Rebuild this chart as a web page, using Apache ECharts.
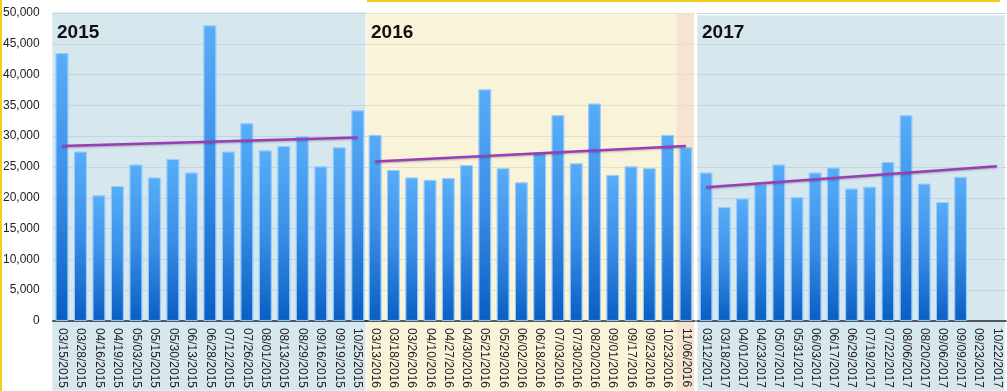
<!DOCTYPE html>
<html><head><meta charset="utf-8">
<script src="https://cdn.jsdelivr.net/npm/echarts@6/dist/echarts.min.js"></script>
<style>html,body{margin:0;padding:0;background:#fff}#c{width:1007px;height:391px}</style>
</head><body><div id="c"></div>
<script>
// ---------- data ----------
const yearLabels = ['2015', '2016', '2017'];
const dates2015 = ['03/15/2015','03/28/2015','04/16/2015','04/19/2015','05/03/2015','05/15/2015','05/30/2015','06/13/2015','06/28/2015','07/12/2015','07/26/2015','08/01/2015','08/13/2015','08/29/2015','09/16/2015','09/19/2015','10/25/2015'];
const values2015 = [43500,27500,20400,21900,25400,23300,26300,24100,48000,27500,32100,27700,28400,30000,25100,28200,34200];
const trend2015 = [28400, 29800];
const dates2016 = ['03/13/2016','03/18/2016','03/26/2016','04/10/2016','04/27/2016','04/30/2016','05/21/2016','05/29/2016','06/02/2016','06/18/2016','07/03/2016','07/30/2016','08/20/2016','09/01/2016','09/17/2016','09/23/2016','10/23/2016','11/06/2016'];
const values2016 = [30200,24500,23300,22900,23200,25300,37600,24800,22500,27400,33400,25600,35300,23700,25100,24800,30200,28200];
const trend2016 = [25900, 28400];
const dates2017 = ['03/12/2017','03/18/2017','04/01/2017','04/23/2017','05/07/2017','05/31/2017','06/03/2017','06/17/2017','06/29/2017','07/19/2017','07/22/2017','08/06/2017','08/20/2017','09/06/2017','09/09/2017','09/23/2017','10/22/2017'];
const values2017 = [24100,18500,19900,22200,25400,20100,24100,24900,21500,21800,25800,33400,22300,19300,23400,null,null];
const trend2017 = [21700, 25100];
const highlightDate = '11/06/2016';
const yTicks = {min: 0, max: 50000, interval: 5000};

// ---------- layout / style ----------
const PLOT_TOP = 13, PLOT_H = 308, IMG_H = 391;
const panels = [
  {left: 52, width: 315, top: 12, bg: '#d6e7ee', line: '#c3d6de'},
  {left: 366, width: 329, top: 14, bg: '#f9f4d9', line: '#e8e0c5'},
  {left: 697, width: 309, top: 15, bg: '#d6e7ee', line: '#c3d6de'}
];
const allDates = [dates2015, dates2016, dates2017];
const allValues = [values2015, values2016, values2017];
const allTrends = [trend2015, trend2016, trend2017];
const FONT = '"Liberation Sans", Arial, Helvetica, sans-serif';

const chart = echarts.init(document.getElementById('c'), null, {renderer: 'canvas'});

const barColor = new echarts.graphic.LinearGradient(0, 0, 0, 1, [
  {offset: 0, color: '#58adf8'},
  {offset: 0.5, color: '#3a8ee6'},
  {offset: 1, color: '#0a5ec2'}
]);

const grids = [], xAxes = [], yAxes = [], series = [];
panels.forEach((p, i) => {
  grids.push({left: p.left, width: p.width, top: PLOT_TOP, height: PLOT_H, containLabel: false});
  xAxes.push({
    type: 'category', gridIndex: i, data: allDates[i], boundaryGap: true,
    axisLine: {show: true, lineStyle: {color: '#2b2b2b', width: 1.5}},
    axisTick: {show: false},
    axisLabel: {rotate: -90, interval: 0, margin: 7, fontSize: 12, color: '#222', fontFamily: FONT},
    splitLine: {show: false}
  });
  yAxes.push({
    type: 'value', gridIndex: i, min: yTicks.min, max: yTicks.max, interval: yTicks.interval,
    axisLine: {show: false}, axisTick: {show: false},
    axisLabel: {show: i === 0, margin: 13, fontSize: 12, color: '#222', fontFamily: FONT,
      formatter: v => v.toLocaleString('en-US')},
    splitLine: {show: true, lineStyle: {color: p.line, width: 1}}
  });
  series.push({
    type: 'bar', xAxisIndex: i, yAxisIndex: i, data: allValues[i], barWidth: '70%',
    itemStyle: {color: barColor, borderColor: 'rgba(150,205,255,0.75)', borderWidth: 1},
    silent: true, z: 2
  });
  const d = allDates[i], t = allTrends[i];
  series.push({
    type: 'line', xAxisIndex: i, yAxisIndex: i,
    data: [[d[0], t[0]], [d[d.length - 1], t[1]]],
    showSymbol: false, silent: true, z: 5,
    lineStyle: {color: '#9a3db6', width: 2.5, shadowColor: 'rgba(0,0,0,0.25)', shadowBlur: 2, shadowOffsetY: 1}
  });
});

chart.setOption({
  animation: false,
  backgroundColor: '#ffffff',
  grid: grids, xAxis: xAxes, yAxis: yAxes, series: series
});

// panel backgrounds, highlight band and year titles
const g = [];
panels.forEach((p, i) => {
  g.push({type: 'rect', z: -10, shape: {x: p.left, y: p.top, width: p.width - 1, height: IMG_H - p.top},
    style: {fill: p.bg, stroke: 'rgba(255,255,255,0.7)', lineWidth: 1}, silent: true});
  g.push({type: 'text', z: 10, x: p.left + 5, y: 23,
    style: {text: yearLabels[i], font: 'bold 19px ' + FONT, fill: '#111', verticalAlign: 'top'}, silent: true});
});
const hx = chart.convertToPixel({xAxisIndex: 1}, highlightDate);
const band = panels[1].width / dates2016.length;
g.push({type: 'rect', z: -9, shape: {x: hx - band / 2, y: panels[1].top, width: band - 1, height: IMG_H - panels[1].top},
  style: {fill: '#f6e3d2'}, silent: true});
// decorative yellow edges of the original image
g.push({type: 'rect', z: 20, shape: {x: 0, y: 0, width: 2, height: IMG_H}, style: {fill: '#f2cf1d'}, silent: true});
g.push({type: 'rect', z: 20, shape: {x: 367, y: 0, width: 633, height: 2}, style: {fill: '#f2cf1d'}, silent: true});
chart.setOption({graphic: g});
</script>
</body></html>
